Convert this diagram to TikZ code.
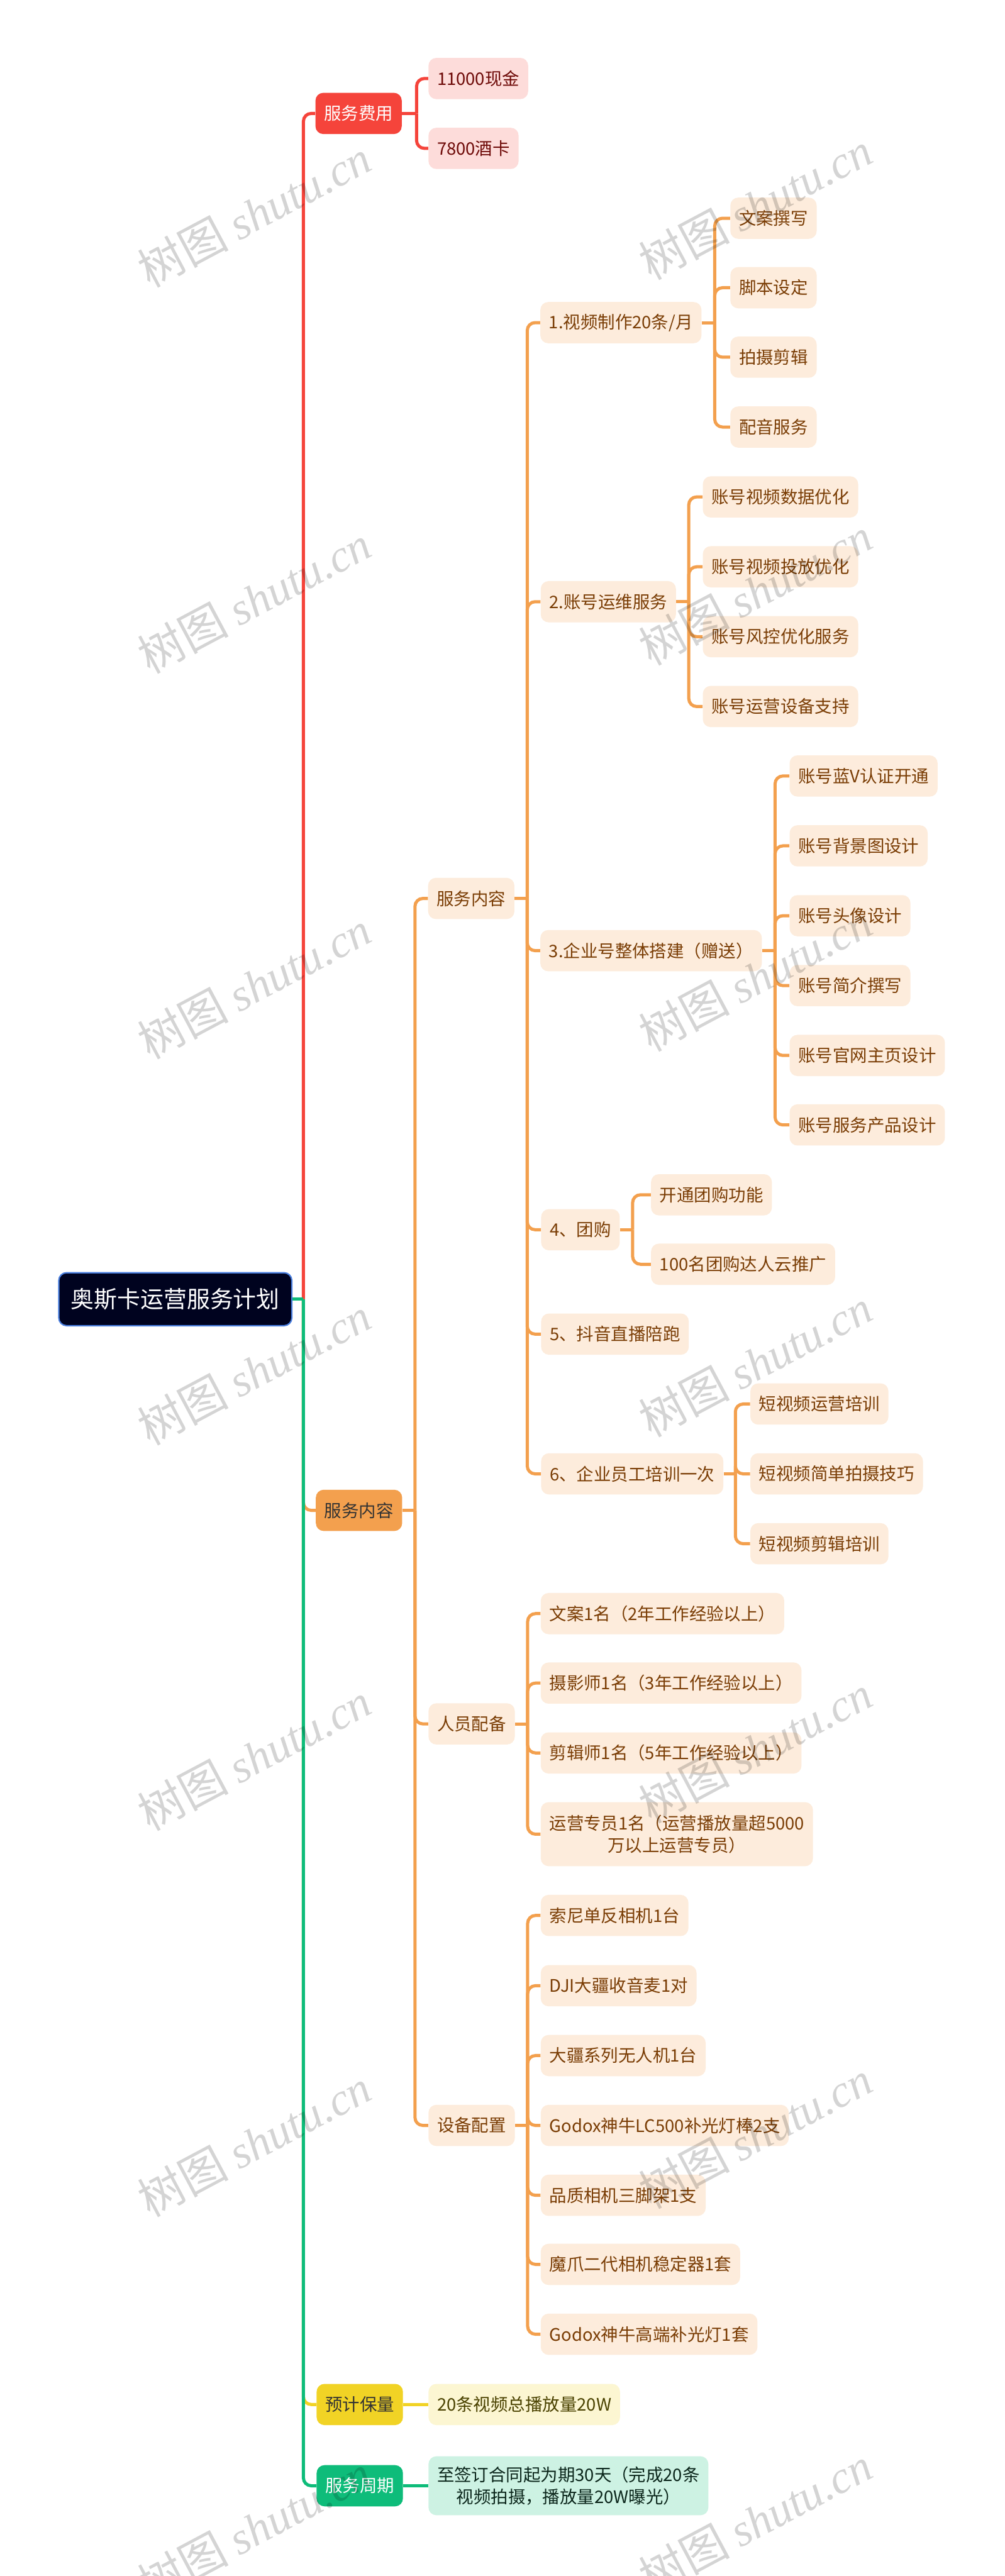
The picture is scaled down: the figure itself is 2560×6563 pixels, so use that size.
\documentclass[tikz,border=0pt]{standalone}
\usepackage{fontspec}
\setmainfont{Noto Sans CJK SC}
\newfontfamily\wmfont{Liberation Serif}
\usetikzlibrary{positioning}
\definecolor{rootfill}{HTML}{00031F}
\definecolor{rootline}{HTML}{4A7FDF}
\definecolor{redmain}{HTML}{F5443B}
\definecolor{redsoft}{HTML}{FDDCDA}
\definecolor{redtext}{HTML}{6E0A08}
\definecolor{orgmain}{HTML}{F3A04E}
\definecolor{orgsoft}{HTML}{FDECDC}
\definecolor{orgtext}{HTML}{7A3D05}
\definecolor{ylwmain}{HTML}{F1D325}
\definecolor{ylwsoft}{HTML}{FCF6D2}
\definecolor{ylwtext}{HTML}{4A4200}
\definecolor{grnmain}{HTML}{0EBC7A}
\definecolor{grnsoft}{HTML}{CDF2E3}
\definecolor{grntext}{HTML}{0B261B}

\begin{document}
\begin{tikzpicture}[x=0.01cm,y=-0.01cm,
  every node/.style={font=\fontsize{12.5pt}{16.2pt}\selectfont},
  box/.style={anchor=west,rounded corners=0.2cm,minimum height=1.05cm,inner xsep=0.22cm,inner ysep=0.1cm},
  rootbox/.style={box,draw=rootline,line width=1pt,fill=rootfill,text=white,minimum height=1.35cm,inner xsep=0.31cm,font=\fontsize{16.8pt}{20pt}\selectfont},
  redtop/.style={box,fill=redmain,text=white},
  orgtop/.style={box,fill=orgmain,text=black!80},
  ylwtop/.style={box,fill=ylwmain,text=black!80},
  grntop/.style={box,fill=grnmain,text=white},
  redleaf/.style={box,fill=redsoft,text=redtext},
  orgleaf/.style={box,fill=orgsoft,text=orgtext},
  ylwleaf/.style={box,fill=ylwsoft,text=ylwtext},
  grnleaf/.style={box,fill=grnsoft,text=grntext},
  link/.style={line width=0.08cm,rounded corners=0.2cm},
  wmark/.style={rotate=28,text=black,text opacity=0.17,font=\fontsize{33pt}{33pt}\selectfont}]
  \fill[white] (0,0) rectangle (2560,6563);
  \useasboundingbox (0,0) rectangle (2560,6563);

  % root and main branches
  \node[rootbox] (root) at (148,3310) {奥斯卡运营服务计划};
  \coordinate (trunk) at (773,3310);
  \node[redtop] (fee) at (803,289) {服务费用};
  \node[orgtop] (svc) at (804,3848) {服务内容};
  \node[ylwtop] (est) at (806,6126) {预计保量};
  \node[grntop] (term) at (806,6333) {服务周期};
  \draw[link,redmain] (trunk) |- (fee.west);
  \draw[link,orgmain] (trunk) |- (svc.west);
  \draw[link,ylwmain] (trunk) |- (est.west);
  \draw[link,grnmain] (root.east) -- (trunk);
  \draw[link,grnmain] (trunk) |- (term.west);

  % fees
  \coordinate (feej) at ([xshift=0.37cm]fee.east);
  \draw[link,redmain] (fee.east) -- (feej);
  \foreach \y/\txt [count=\i] in {200/11000现金,378/7800酒卡} {
    \node[redleaf] (fee\i) at (1091,\y) {\txt};
    \draw[link,redmain] (feej) |- (fee\i.west);
  }

  % service content
  \coordinate (svcj) at ([xshift=0.32cm]svc.east);
  \draw[link,orgmain] (svc.east) -- (svcj);
  \node[orgleaf] (work) at (1090,2289) {服务内容};
  \node[orgleaf] (staff) at (1091,4392) {人员配备};
  \node[orgleaf] (gear) at (1091,5415) {设备配置};
  \foreach \n in {work,staff,gear}
    \draw[link,orgmain] (svcj) |- (\n.west);

  \coordinate (workj) at ([xshift=0.32cm]work.east);
  \draw[link,orgmain] (work.east) -- (workj);
  \node[orgleaf] (v1) at (1376,822) {1.视频制作20条/月};
  \node[orgleaf] (v2) at (1377,1533) {2.账号运维服务};
  \node[orgleaf] (v3) at (1376,2422) {3.企业号整体搭建（赠送）};
  \node[orgleaf] (v4) at (1378,3133) {4、团购};
  \node[orgleaf] (v5) at (1378,3399) {5、抖音直播陪跑};
  \node[orgleaf] (v6) at (1378,3755) {6、企业员工培训一次};
  \foreach \n in {v1,v2,v3,v4,v5,v6}
    \draw[link,orgmain] (workj) |- (\n.west);

  \coordinate (v1j) at ([xshift=0.33cm]v1.east);
  \draw[link,orgmain] (v1.east) -- (v1j);
  \foreach \y/\txt [count=\i] in {556/文案撰写,733/脚本设定,910/拍摄剪辑,1088/配音服务} {
    \node[orgleaf] (va\i) at (1860,\y) {\txt};
    \draw[link,orgmain] (v1j) |- (va\i.west);
  }

  \coordinate (v2j) at ([xshift=0.32cm]v2.east);
  \draw[link,orgmain] (v2.east) -- (v2j);
  \foreach \y/\txt [count=\i] in {1266/账号视频数据优化,1444/账号视频投放优化,1622/账号风控优化服务,1800/账号运营设备支持} {
    \node[orgleaf] (vb\i) at (1790,\y) {\txt};
    \draw[link,orgmain] (v2j) |- (vb\i.west);
  }

  \coordinate (v3j) at ([xshift=0.33cm]v3.east);
  \draw[link,orgmain] (v3.east) -- (v3j);
  \foreach \y/\txt [count=\i] in {1977/账号蓝V认证开通,2155/账号背景图设计,2333/账号头像设计,2511/账号简介撰写,2689/账号官网主页设计,2866/账号服务产品设计} {
    \node[orgleaf] (vc\i) at (2011,\y) {\txt};
    \draw[link,orgmain] (v3j) |- (vc\i.west);
  }

  \coordinate (v4j) at ([xshift=0.32cm]v4.east);
  \draw[link,orgmain] (v4.east) -- (v4j);
  \foreach \y/\txt [count=\i] in {3044/开通团购功能,3221/100名团购达人云推广} {
    \node[orgleaf] (vd\i) at (1658,\y) {\txt};
    \draw[link,orgmain] (v4j) |- (vd\i.west);
  }

  \coordinate (v6j) at ([xshift=0.3cm]v6.east);
  \draw[link,orgmain] (v6.east) -- (v6j);
  \foreach \y/\txt [count=\i] in {3577/短视频运营培训,3755/短视频简单拍摄技巧,3933/短视频剪辑培训} {
    \node[orgleaf] (ve\i) at (1911,\y) {\txt};
    \draw[link,orgmain] (v6j) |- (ve\i.west);
  }

  % staff
  \coordinate (staffj) at ([xshift=0.32cm]staff.east);
  \draw[link,orgmain] (staff.east) -- (staffj);
  \foreach \y/\txt [count=\i] in {4111/文案1名（2年工作经验以上）,4288/摄影师1名（3年工作经验以上）,4466/剪辑师1名（5年工作经验以上）} {
    \node[orgleaf] (sf\i) at (1377,\y) {\txt};
    \draw[link,orgmain] (staffj) |- (sf\i.west);
  }
  \node[orgleaf,align=center,minimum height=1.63cm] (sf4) at (1377,4673) {运营专员1名（运营播放量超5000\\万以上运营专员）};
  \draw[link,orgmain] (staffj) |- (sf4.west);

  % equipment
  \coordinate (gearj) at ([xshift=0.32cm]gear.east);
  \draw[link,orgmain] (gear.east) -- (gearj);
  \foreach \y/\txt [count=\i] in {4880/索尼单反相机1台,5059/DJI大疆收音麦1对,5237/大疆系列无人机1台,5415/Godox神牛LC500补光灯棒2支,5593/品质相机三脚架1支,5769/魔爪二代相机稳定器1套,5947/Godox神牛高端补光灯1套} {
    \node[orgleaf] (eq\i) at (1377,\y) {\txt};
    \draw[link,orgmain] (gearj) |- (eq\i.west);
  }

  % estimate and term
  \node[ylwleaf] (est1) at (1091,6126) {20条视频总播放量20W};
  \draw[link,ylwmain] (est.east) -- (est1.west);
  \node[grnleaf,align=center,minimum height=1.5cm] (term1) at (1091,6333) {至签订合同起为期30天（完成20条\\视频拍摄，播放量20W曝光）};
  \draw[link,grnmain] (term.east) -- (term1.west);

  % watermarks
  \foreach \wx/\wy [count=\k] in {648/544,1924/524,648/1527,1924/1507,648/2510,1924/2490,648/3493,1924/3473,648/4476,1924/4456,648/5459,1924/5439,648/6442,1924/6422}
    \node[wmark] (wm\k) at (\wx,\wy) {树图 {\wmfont\itshape shutu.cn}};
\end{tikzpicture}
\end{document}
